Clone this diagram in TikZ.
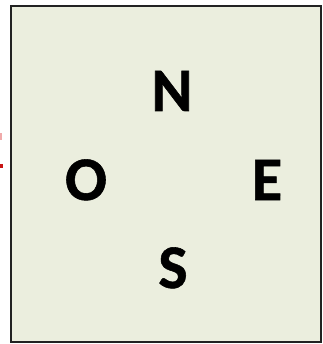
\documentclass[tikz,border=0pt]{standalone}
\usepackage{fontspec}
\setmainfont{Carlito}
\newfontfamily\dirfont{Carlito}[UprightFont={* Bold},FakeBold=0.9]
\definecolor{panel}{RGB}{235,238,222}
\definecolor{edgecol}{RGB}{34,34,34}
\definecolor{redmark}{RGB}{200,20,20}
\definecolor{pinkmark}{RGB}{240,170,170}
\begin{document}
\begin{tikzpicture}[x=1pt,y=-1pt,
  dirlabel/.style={anchor=base,inner sep=0pt,font=\fontsize{62}{62}\dirfont}]
\useasboundingbox (0,0) rectangle (322,344);
\fill[pinkmark] (0,133) rectangle (2,140);
\fill[redmark] (0,164) rectangle (3,168);
\draw[edgecol,line width=2pt,fill=panel] (11,6) rectangle (321,342);
\node[dirlabel] (n) at (172,111) {N};
\node[dirlabel] (o) at (86,200) {O};
\node[dirlabel] (e) at (267,200) {E};
\node[dirlabel] (s) at (173,288) {S};
\end{tikzpicture}
\end{document}
